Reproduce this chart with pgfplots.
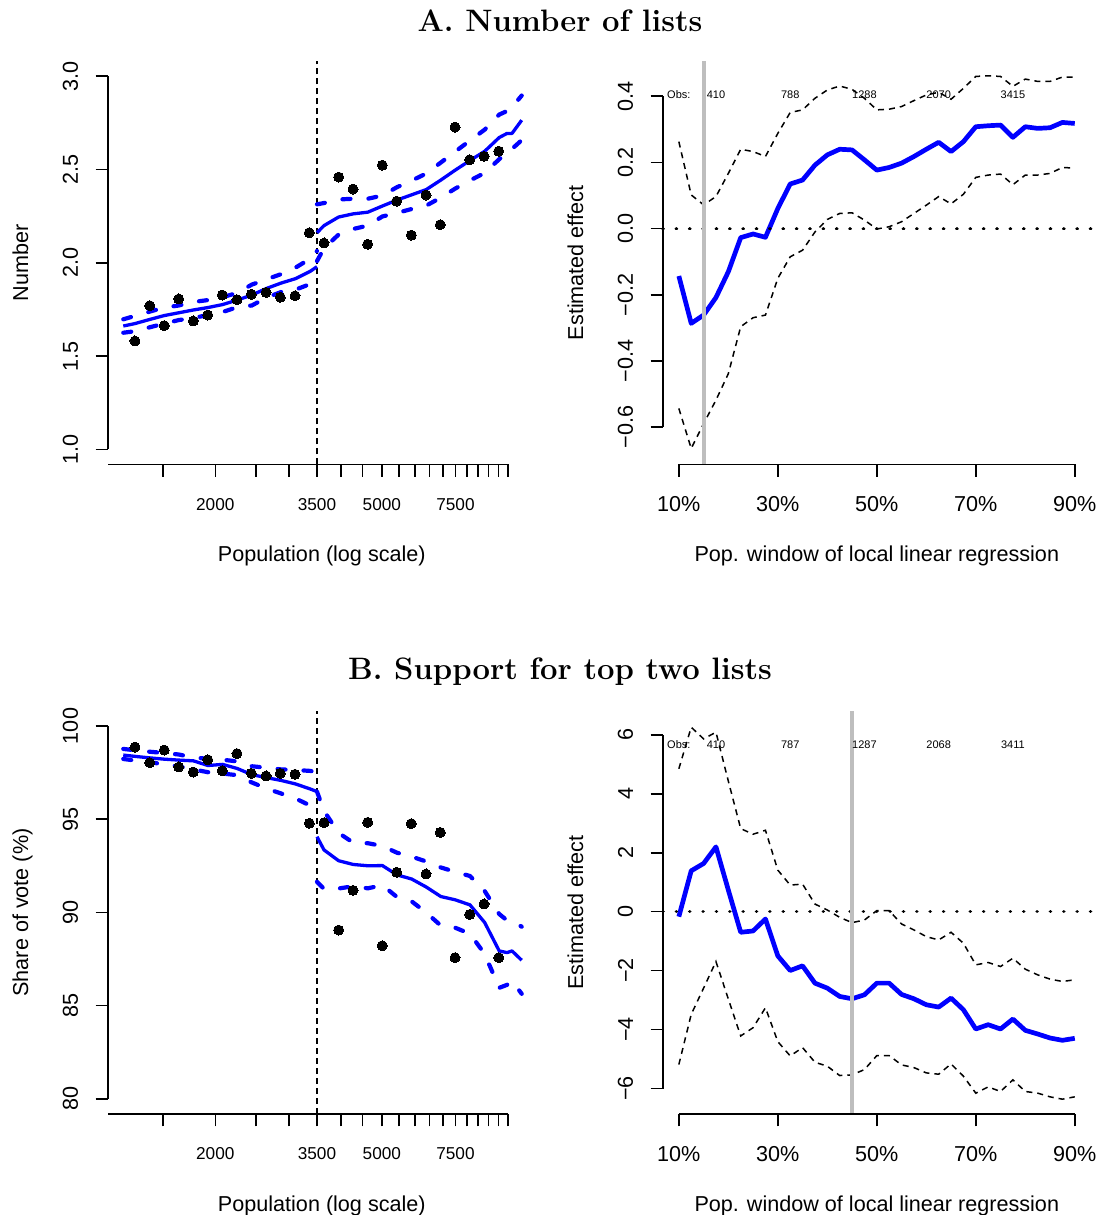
\documentclass[border=0pt]{standalone}
\usepackage{fontspec}
\setsansfont{Liberation Sans}
\usepackage{pgfplots}
\pgfplotsset{compat=1.18}
\usepackage{pgfplotstable}

\definecolor{rblue}{RGB}{0,0,255}
\definecolor{rgray}{RGB}{190,190,190}
\newcommand{\labfont}{\sffamily\fontsize{10.8}{13}\selectfont}
\newcommand{\smallfont}{\sffamily\fontsize{8.6}{10}\selectfont}
\newcommand{\obsfont}{\sffamily\fontsize{5.5}{6.5}\selectfont}

% ---------- Panel A left: binned means ----------
\pgfplotstableread{
x y
1285 1.581
1394 1.770
1510 1.663
1635 1.806
1772 1.688
1918 1.720
2078 1.827
2253 1.802
2438 1.831
2644 1.841
2860 1.815
3101 1.823
3355 2.161
3638 2.106
3944 2.459
4267 2.395
4626 2.099
5013 2.523
5427 2.330
5881 2.148
6377 2.363
6899 2.204
7481 2.727
8110 2.552
8775 2.570
9514 2.598
}\dotsA

\pgfplotstableread{
x fit up lo
1205 1.661 1.697 1.625
1285 1.674 1.715 1.633
1393 1.696 1.738 1.654
1510 1.717 1.760 1.674
1636 1.732 1.771 1.693
1773 1.747 1.790 1.704
1921 1.760 1.800 1.720
2082 1.776 1.816 1.736
2256 1.800 1.838 1.762
2445 1.827 1.883 1.771
2649 1.862 1.911 1.813
2871 1.891 1.939 1.843
3111 1.915 1.974 1.856
3372 1.954 2.022 1.886
3500 1.979 2.063 1.895
}\fitAl

\pgfplotstableread{
x fit up lo
3500 2.161 2.313 2.009
3638 2.199 2.320 2.078
3942 2.245 2.339 2.151
4272 2.262 2.343 2.181
4629 2.271 2.343 2.199
5016 2.304 2.360 2.248
5436 2.336 2.405 2.267
5891 2.364 2.440 2.288
6384 2.392 2.478 2.306
6918 2.443 2.537 2.349
7497 2.497 2.596 2.398
8124 2.548 2.655 2.441
8804 2.597 2.713 2.481
9541 2.671 2.794 2.555
9959 2.693 2.813 2.590
10237 2.693 2.834 2.610
10798 2.764 2.896 2.657
}\fitAr

% ---------- Panel B left ----------
\pgfplotstableread{
x y
1285 98.87
1394 98.03
1510 98.71
1635 97.80
1772 97.53
1918 98.19
2078 97.60
2253 98.52
2438 97.46
2644 97.32
2860 97.46
3101 97.41
3355 94.78
3638 94.81
3944 89.05
4267 91.18
4626 94.83
5013 88.21
5427 92.15
5881 94.76
6377 92.06
6899 94.29
7481 87.57
8110 89.89
8775 90.45
9514 87.57
}\dotsB

\pgfplotstableread{
x fit up lo
1205 98.44 98.77 98.23
1285 98.37 98.70 98.15
1393 98.29 98.62 98.06
1510 98.22 98.55 97.94
1636 98.17 98.47 97.83
1773 98.13 98.31 97.67
1921 97.88 98.24 97.52
2082 97.94 98.19 97.45
2256 97.72 98.10 97.36
2445 97.39 97.84 96.97
2649 97.23 97.76 96.65
2871 97.08 97.67 96.38
3111 96.89 97.64 96.11
3372 96.62 97.59 95.73
3500 96.48 97.52 95.49
}\fitBl

\pgfplotstableread{
x fit up lo
3500 94.06 96.48 91.64
3638 93.35 95.44 91.26
3942 92.77 94.26 91.28
4272 92.57 93.74 91.40
4629 92.50 93.71 91.29
5016 92.51 93.56 91.46
5436 92.01 93.20 90.82
5891 91.79 92.99 90.59
6384 91.36 92.73 89.99
6918 90.85 92.41 89.29
7497 90.67 92.17 89.17
8124 90.40 91.95 88.85
8804 89.46 91.15 87.77
9541 87.93 89.91 85.95
9959 87.84 89.57 86.11
10237 87.93 89.54 86.32
10798 87.43 89.23 85.63
}\fitBr

% ---------- Right panels: estimates by window ----------
\pgfplotstableread{
x est up lo
10 -0.143 0.263 -0.543
12.5 -0.286 0.102 -0.664
15 -0.261 0.072 -0.589
17.5 -0.208 0.097 -0.518
20 -0.130 0.167 -0.438
22.5 -0.027 0.240 -0.296
25 -0.016 0.233 -0.269
27.5 -0.026 0.218 -0.261
30 0.061 0.288 -0.150
32.5 0.135 0.351 -0.085
35 0.147 0.359 -0.065
37.5 0.192 0.394 -0.010
40 0.223 0.419 0.028
42.5 0.240 0.431 0.046
45 0.238 0.421 0.048
47.5 0.208 0.394 0.026
50 0.177 0.359 -0.001
52.5 0.185 0.361 0.006
55 0.198 0.369 0.021
57.5 0.218 0.387 0.046
60 0.240 0.404 0.071
62.5 0.261 0.412 0.097
65 0.233 0.391 0.075
67.5 0.263 0.424 0.104
70 0.308 0.460 0.155
72.5 0.311 0.462 0.162
75 0.313 0.460 0.165
77.5 0.276 0.430 0.133
80 0.308 0.452 0.162
82.5 0.303 0.445 0.162
85 0.305 0.445 0.167
87.5 0.321 0.458 0.185
90 0.318 0.458 0.183
}\estA

\pgfplotstableread{
x est up lo
10 -0.169 4.849 -5.187
12.5 1.387 6.259 -3.485
15 1.635 5.864 -2.594
17.5 2.199 6.089 -1.691
20 0.733 4.430 -2.964
22.5 -0.699 2.819 -4.217
25 -0.654 2.628 -3.936
27.5 -0.248 2.763 -3.259
30 -1.500 1.410 -4.410
32.5 -1.996 0.902 -4.894
35 -1.838 0.936 -4.612
37.5 -2.425 0.259 -5.109
40 -2.594 0.056 -5.244
42.5 -2.876 -0.192 -5.560
45 -2.955 -0.372 -5.538
47.5 -2.820 -0.282 -5.358
50 -2.425 0.034 -4.884
52.5 -2.425 0.034 -4.884
55 -2.808 -0.417 -5.199
57.5 -2.955 -0.620 -5.290
60 -3.158 -0.846 -5.470
62.5 -3.237 -0.959 -5.515
65 -2.932 -0.699 -5.165
67.5 -3.327 -1.071 -5.583
70 -3.981 -1.804 -6.158
72.5 -3.835 -1.725 -5.945
75 -3.981 -1.861 -6.101
77.5 -3.643 -1.579 -5.707
80 -4.026 -1.951 -6.101
82.5 -4.150 -2.143 -6.157
85 -4.286 -2.289 -6.283
87.5 -4.365 -2.368 -6.362
90 -4.297 -2.312 -6.282
}\estB

\pgfplotsset{
  rpanel/.style={
    scale only axis, width=213.8pt, height=201.55pt,
    axis lines*=left, axis line style={draw=none},
    tick align=outside, major tick length=6.2pt,
    major tick style={black, line width=0.8pt},
    minor tick num=0,
    clip=false,
    tick label style={font=\labfont, inner sep=0pt},
    xticklabel style={anchor=north},
    yticklabel style={rotate=90, anchor=south},
    yticklabel shift=8.6pt,
    every axis x label/.style={at={(axis description cs:0.5,-0.227)}, anchor=center, font=\labfont},
    every axis y label/.style={at={(axis description cs:-0.187,0.5)}, rotate=90, anchor=base, font=\labfont},
  },
  lpanel/.style={
    rpanel, xmin=1108, xmax=11657,
    xtick={1500,2000,2500,3000,3500,4000,4500,5000,5500,6000,6500,7000,7500,8000,8500,9000,9500,10000},
    xticklabels={{},2000,{},{},3500,{},{},5000,{},{},{},{},7500,{},{},{},{},{}},
    minor xtick={},
    xticklabel style={font=\smallfont},
    xticklabel shift=10.45pt,
    xlabel={Population (log scale)},
  },
  rgtpanel/.style={
    rpanel, xmin=6.8, xmax=93.2,
    xtick={10,30,50,70,90},
    xticklabels={10\%,30\%,50\%,70\%,90\%},
    xticklabel shift=9.65pt,
    xlabel={Pop. window of local linear regression},
    ylabel={Estimated effect},
  },
  cifit/.style={rblue, line width=2.1pt, line cap=round, dash pattern=on 4pt off 9pt},
  mainfit/.style={rblue, line width=1.65pt, line join=round},
  dotsty/.style={only marks, mark=*, mark size=2.5pt, black, mark options={fill=black, draw=black, line width=0pt}},
  bcut/.style={black, line width=0.8pt, dash pattern=on 3pt off 2pt},
  eststy/.style={rblue, line width=2.35pt, line join=round},
  cisty/.style={black, line width=0.75pt, dash pattern=on 3pt off 2.5pt},
  zerosty/.style={black, line width=1.8pt, line cap=round, dash pattern=on 0.01pt off 6.67pt},
  vgray/.style={rgray, line width=2pt},
}

\begin{document}
\begin{tikzpicture}
\path[use as bounding box] (0,0) rectangle (549.5pt,607.5pt);

\node[anchor=base, font=\bfseries\fontsize{15.5}{18}\selectfont] at (280pt,591.75pt) {A. Number of lists};
\node[anchor=base, font=\bfseries\fontsize{15.5}{18}\selectfont] at (280pt,267.5pt) {B. Support for top two lists};

% ===== A left =====
\begin{axis}[xmode=log, lpanel, at={(54pt,375.25pt)}, anchor=south west,
  ymin=0.919, ymax=3.079, ytick={1,1.5,2,2.5,3}, yticklabels={1.0,1.5,2.0,2.5,3.0},
  ylabel={Number}]
  \addplot[bcut] coordinates {(3500,0.919) (3500,3.079)};
  \addplot[mainfit] table[x=x,y=fit]{\fitAl};
  \addplot[cifit] table[x=x,y=up]{\fitAl};
  \addplot[cifit] table[x=x,y=lo]{\fitAl};
  \addplot[mainfit] table[x=x,y=fit]{\fitAr};
  \addplot[cifit] table[x=x,y=up]{\fitAr};
  \addplot[cifit] table[x=x,y=lo]{\fitAr};
  \addplot[dotsty] table[x=x,y=y]{\dotsA};
  \draw[black, line width=0.8pt] (axis cs:1108,1) -- (axis cs:1108,3);
  \draw[black, line width=0.8pt] (axis cs:1108,0.919) -- (axis cs:10000,0.919);
\end{axis}

% ===== A right =====
\begin{axis}[rgtpanel, at={(331.5pt,375.25pt)}, anchor=south west,
  ymin=-0.7124, ymax=0.5054, ytick={-0.6,-0.4,-0.2,0,0.2,0.4},
  yticklabels={−0.6,−0.4,−0.2,0.0,0.2,0.4}]
  \addplot[cisty] table[x=x,y=up]{\estA};
  \addplot[cisty] table[x=x,y=lo]{\estA};
  \addplot[eststy] table[x=x,y=est]{\estA};
  \addplot[zerosty] coordinates {(6.8,0) (93.2,0)};
  \addplot[vgray] coordinates {(15,-0.7124) (15,0.5054)};
  \node[font=\obsfont] at (axis cs:10,0.404) {Obs:};
  \node[font=\obsfont] at (axis cs:17.5,0.404) {410};
  \node[font=\obsfont] at (axis cs:32.5,0.404) {788};
  \node[font=\obsfont] at (axis cs:47.5,0.404) {1288};
  \node[font=\obsfont] at (axis cs:62.5,0.404) {2070};
  \node[font=\obsfont] at (axis cs:77.5,0.404) {3415};
  \draw[black, line width=0.8pt] (axis cs:6.8,-0.6) -- (axis cs:6.8,0.4);
  \draw[black, line width=0.8pt] (axis cs:10,-0.7124) -- (axis cs:90,-0.7124);
\end{axis}

% ===== B left =====
\begin{axis}[xmode=log, lpanel, at={(54pt,50.5pt)}, anchor=south west,
  ymin=79.18, ymax=100.81, ytick={80,85,90,95,100}, yticklabels={80,85,90,95,100},
  ylabel={Share of vote (\%)}]
  \addplot[bcut] coordinates {(3500,79.18) (3500,100.81)};
  \addplot[mainfit] table[x=x,y=fit]{\fitBl};
  \addplot[cifit] table[x=x,y=up]{\fitBl};
  \addplot[cifit] table[x=x,y=lo]{\fitBl};
  \addplot[mainfit] table[x=x,y=fit]{\fitBr};
  \addplot[cifit] table[x=x,y=up]{\fitBr};
  \addplot[cifit] table[x=x,y=lo]{\fitBr};
  \addplot[dotsty] table[x=x,y=y]{\dotsB};
  \draw[black, line width=0.8pt] (axis cs:1108,80) -- (axis cs:1108,100);
  \draw[black, line width=0.8pt] (axis cs:1108,79.18) -- (axis cs:10000,79.18);
\end{axis}

% ===== B right =====
\begin{axis}[rgtpanel, at={(331.5pt,50.5pt)}, anchor=south west,
  ymin=-6.865, ymax=6.813, ytick={-6,-4,-2,0,2,4,6},
  yticklabels={−6,−4,−2,0,2,4,6}]
  \addplot[cisty] table[x=x,y=up]{\estB};
  \addplot[cisty] table[x=x,y=lo]{\estB};
  \addplot[eststy] table[x=x,y=est]{\estB};
  \addplot[zerosty] coordinates {(6.8,0) (93.2,0)};
  \addplot[vgray] coordinates {(45,-6.865) (45,6.813)};
  \node[font=\obsfont] at (axis cs:10,5.66) {Obs:};
  \node[font=\obsfont] at (axis cs:17.5,5.66) {410};
  \node[font=\obsfont] at (axis cs:32.5,5.66) {787};
  \node[font=\obsfont] at (axis cs:47.5,5.66) {1287};
  \node[font=\obsfont] at (axis cs:62.5,5.66) {2068};
  \node[font=\obsfont] at (axis cs:77.5,5.66) {3411};
  \draw[black, line width=0.8pt] (axis cs:6.8,-6) -- (axis cs:6.8,6);
  \draw[black, line width=0.8pt] (axis cs:10,-6.865) -- (axis cs:90,-6.865);
\end{axis}
\end{tikzpicture}
\end{document}
